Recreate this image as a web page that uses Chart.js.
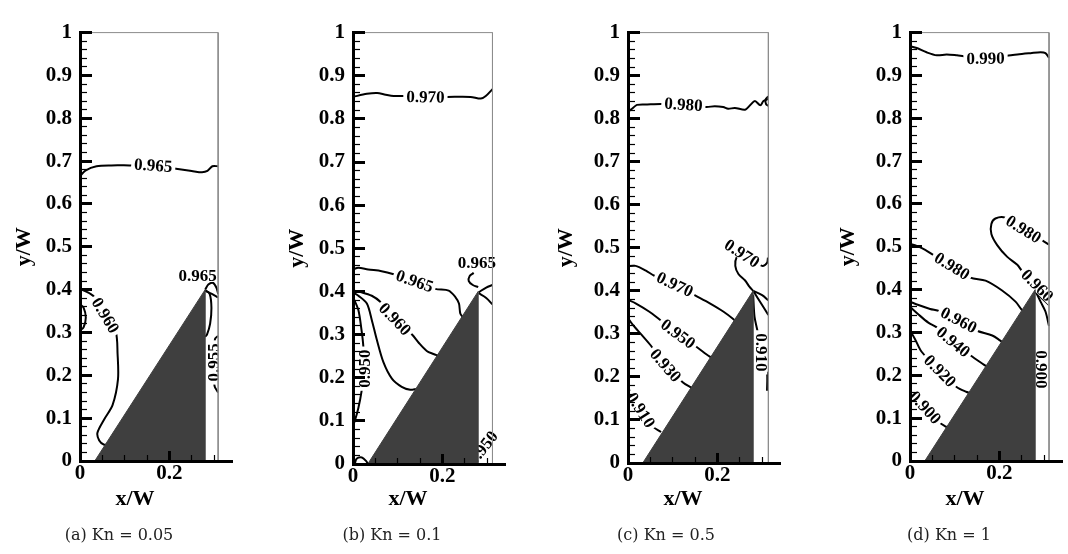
<!DOCTYPE html>
<html lang="en">
<head>
<meta charset="UTF-8">
<title>Kn contours</title>
<script src="https://cdn.jsdelivr.net/npm/chart.js"></script>
<style>
  body { margin: 0; width: 1068px; height: 554px; background: #fff; position: relative; overflow: hidden; }
  canvas { position: absolute; top: 0; }
  .xtitle { position: absolute; top: 498px; font: bold 22px "Liberation Serif", serif; color: #000; transform: translate(-50%, -50%); white-space: nowrap; }
  .cap { position: absolute; top: 534px; font: 16px "DejaVu Serif", serif; color: #222; transform: translate(-50%, -50%); white-space: nowrap; }
</style>
</head>
<body>
<script>
// sub-figure captions
const captions = ['(a) Kn = 0.05', '(b) Kn = 0.1', '(c) Kn = 0.5', '(d) Kn = 1'];

// solid wedge and right edge of the domain (x/W)
const wedge = [[0.033, 0], [0.28, 0], [0.28, 0.4], [0.033, 0]];
const domainRight = [0.309, 0.312, 0.314, 0.311];

// contour lines, one list of [x/W, y/W] points per line
const linesA = [
    [[0, 0.665], [0.012, 0.678], [0.037, 0.688], [0.07, 0.69], [0.111, 0.69], [0.164, 0.69], [0.211, 0.683], [0.25, 0.677], [0.273, 0.674], [0.285, 0.677], [0.296, 0.688], [0.309, 0.688]],
    [[0, 0.402], [0.01, 0.397], [0.022, 0.391], [0.033, 0.382], [0.057, 0.34], [0.08, 0.301], [0.084, 0.251], [0.085, 0.191], [0.073, 0.131], [0.054, 0.097], [0.039, 0.066], [0.043, 0.048], [0.054, 0.038], [0.07, 0.04]],
    [[0, 0.366], [0.008, 0.358], [0.013, 0.335], [0.008, 0.312], [0, 0.305]],
    [[0.28, 0.4], [0.287, 0.412], [0.297, 0.416], [0.305, 0.405], [0.309, 0.39]],
    [[0.28, 0.398], [0.295, 0.39], [0.309, 0.382]],
    [[0.28, 0.398], [0.29, 0.39], [0.294, 0.357], [0.291, 0.32], [0.284, 0.295], [0.28, 0.29]],
    [[0.309, 0.292], [0.302, 0.285], [0.299, 0.23], [0.301, 0.175], [0.309, 0.16]]
];
const linesB = [
    [[0, 0.851], [0.031, 0.858], [0.054, 0.86], [0.073, 0.856], [0.091, 0.853], [0.114, 0.853], [0.162, 0.851], [0.211, 0.851], [0.263, 0.851], [0.286, 0.847], [0.297, 0.853], [0.312, 0.869]],
    [[0, 0.451], [0.012, 0.455], [0.034, 0.451], [0.064, 0.447], [0.091, 0.44], [0.138, 0.424], [0.184, 0.406], [0.214, 0.402], [0.229, 0.387], [0.237, 0.372], [0.24, 0.349], [0.246, 0.34]],
    [[0, 0.402], [0.019, 0.398], [0.042, 0.39], [0.061, 0.376], [0.094, 0.336], [0.132, 0.3], [0.147, 0.281], [0.165, 0.262], [0.18, 0.255], [0.19, 0.251]],
    [[0, 0.398], [0.012, 0.39], [0.031, 0.372], [0.042, 0.334], [0.053, 0.289], [0.068, 0.236], [0.087, 0.198], [0.109, 0.179], [0.128, 0.172], [0.142, 0.174]],
    [[0, 0.387], [0.012, 0.357], [0.019, 0.311], [0.023, 0.274], [0.025, 0.221], [0.019, 0.168], [0.012, 0.13], [0.004, 0.1], [0, 0.09]],
    [[0.27, 0.443], [0.261, 0.436], [0.259, 0.424], [0.268, 0.415], [0.28, 0.41]],
    [[0.281, 0.398], [0.298, 0.409], [0.312, 0.415]],
    [[0.281, 0.396], [0.298, 0.385], [0.312, 0.37]],
    [[0.004, 0], [0.008, 0.012], [0.02, 0.015], [0.03, 0.006], [0.033, 0]]
];
const linesC = [
    [[0, 0.816], [0.009, 0.823], [0.02, 0.832], [0.043, 0.833], [0.073, 0.834], [0.124, 0.833], [0.175, 0.827], [0.194, 0.829], [0.213, 0.827], [0.224, 0.823], [0.239, 0.825], [0.262, 0.821], [0.273, 0.831], [0.284, 0.841], [0.296, 0.831], [0.303, 0.841], [0.314, 0.846]],
    [[0.314, 0.852], [0.308, 0.845], [0.309, 0.833], [0.314, 0.83]],
    [[0.28, 0.4], [0.272, 0.409], [0.262, 0.424], [0.247, 0.439], [0.24, 0.458], [0.243, 0.478], [0.255, 0.487], [0.3, 0.458], [0.311, 0.465], [0.313, 0.477]],
    [[0, 0.457], [0.017, 0.458], [0.04, 0.447], [0.059, 0.435], [0.105, 0.415], [0.149, 0.39], [0.183, 0.371], [0.213, 0.352], [0.236, 0.334], [0.25, 0.32]],
    [[0, 0.379], [0.017, 0.371], [0.047, 0.352], [0.07, 0.334], [0.112, 0.3], [0.153, 0.27], [0.183, 0.247], [0.195, 0.24]],
    [[0, 0.337], [0.01, 0.322], [0.032, 0.296], [0.051, 0.273], [0.084, 0.227], [0.123, 0.187], [0.142, 0.175], [0.15, 0.17]],
    [[0, 0.175], [0.008, 0.16], [0.029, 0.123], [0.055, 0.085], [0.074, 0.072]],
    [[0.28, 0.39], [0.283, 0.34], [0.29, 0.305], [0.298, 0.257], [0.305, 0.213], [0.311, 0.21], [0.311, 0.168]],
    [[0.28, 0.4], [0.3, 0.39], [0.314, 0.378]],
    [[0.28, 0.4], [0.3, 0.367], [0.314, 0.344]]
];
const linesD = [
    [[0, 0.968], [0.015, 0.964], [0.037, 0.954], [0.06, 0.947], [0.082, 0.949], [0.105, 0.947], [0.12, 0.945], [0.169, 0.94], [0.217, 0.946], [0.24, 0.949], [0.27, 0.952], [0.292, 0.954], [0.303, 0.952], [0.311, 0.941]],
    [[0.311, 0.505], [0.296, 0.515], [0.254, 0.541], [0.213, 0.568], [0.191, 0.566], [0.182, 0.553], [0.182, 0.53], [0.195, 0.504], [0.217, 0.477], [0.24, 0.458], [0.251, 0.443], [0.285, 0.41]],
    [[0.28, 0.398], [0.292, 0.372], [0.303, 0.349], [0.311, 0.315]],
    [[0.28, 0.395], [0.295, 0.38], [0.311, 0.364]],
    [[0, 0.507], [0.015, 0.502], [0.034, 0.493], [0.052, 0.481], [0.094, 0.455], [0.135, 0.428], [0.169, 0.421], [0.206, 0.398], [0.236, 0.372], [0.25, 0.353], [0.26, 0.345]],
    [[0, 0.372], [0.019, 0.364], [0.045, 0.355], [0.066, 0.35], [0.109, 0.329], [0.15, 0.304], [0.184, 0.293], [0.202, 0.281], [0.21, 0.275]],
    [[0, 0.36], [0.019, 0.342], [0.041, 0.323], [0.06, 0.312], [0.097, 0.278], [0.135, 0.247], [0.165, 0.225], [0.175, 0.218]],
    [[0, 0.304], [0.011, 0.285], [0.026, 0.255], [0.067, 0.21], [0.105, 0.172], [0.127, 0.161], [0.135, 0.158]],
    [[0, 0.168], [0.008, 0.155], [0.034, 0.125], [0.067, 0.089], [0.079, 0.081], [0.085, 0.078]]
];

// contour labels: s = line, i = point on it (text follows the line),
// or a free label at x/y; r = fixed rotation in degrees
const labelsA = [
    {s: 0, i: 5, t: '0.965'},
    {s: 1, i: 4, t: '0.960'},
    {x: 0.263, y: 0.432, t: '0.965', r: 0},
    {s: 6, i: 2, t: '0.955', r: -90}
];
const labelsB = [
    {s: 0, i: 6, t: '0.970'},
    {s: 1, i: 5, t: '0.965'},
    {s: 2, i: 4, t: '0.960'},
    {s: 4, i: 4, t: '0.950', r: -90},
    {x: 0.277, y: 0.467, t: '0.965', r: 0},
    {x: 0.29, y: 0.037, t: '0.950', r: -52}
];
const labelsC = [
    {s: 0, i: 5, t: '0.980'},
    {s: 2, i: 6, t: '0.970', r: 33},
    {s: 3, i: 4, t: '0.970'},
    {s: 4, i: 4, t: '0.950'},
    {s: 5, i: 4, t: '0.930'},
    {s: 6, i: 2, t: '0.910'},
    {s: 7, i: 3, t: '0.910', r: 90}
];
const labelsD = [
    {s: 0, i: 7, t: '0.990'},
    {s: 1, i: 2, t: '0.980'},
    {s: 1, i: 11, t: '0.960', r: 45},
    {x: 0.293, y: 0.214, t: '0.900', r: 90},
    {s: 4, i: 4, t: '0.980'},
    {s: 5, i: 4, t: '0.960'},
    {s: 6, i: 4, t: '0.940'},
    {s: 7, i: 3, t: '0.920'},
    {s: 8, i: 2, t: '0.900'}
];

const allLines = [linesA, linesB, linesC, linesD];
const allLabels = [labelsA, labelsB, labelsC, labelsD];

// page layout of the four panels
const plotLeft = [80, 353, 628, 910];
const plotTop = [19, 22, 20, 19];
const plotBottom = [461, 464, 463, 461];
const yTitlePad = [6, 6, 0, 0];
const captionX = [119, 392, 666, 949];
const serif = '"Liberation Serif", serif';

function pts(arr) {
    return arr.map(p => ({x: p[0], y: p[1]}));
}

function fmt(v) {
    return String(Math.round(v * 100) / 100);
}

// draws the inline contour labels just before the frame and wedge
function makeLabelPlugin(lines, labels) {
    return {
        id: 'isoLabels',
        beforeDatasetDraw(chart, args) {
            if (args.index !== 1) return;
            const {ctx, chartArea: ca, scales: {x, y}} = chart;
            ctx.save();
            ctx.beginPath();
            ctx.rect(ca.left, ca.top, ca.right - ca.left, ca.bottom - ca.top);
            ctx.clip();
            ctx.font = 'bold 17px ' + serif;
            ctx.textAlign = 'center';
            ctx.textBaseline = 'middle';
            labels.forEach(lb => {
                let px, py, ang = lb.r;
                if (lb.s !== undefined) {
                    const line = lines[lb.s];
                    const p = line[lb.i];
                    px = x.getPixelForValue(p[0]);
                    py = y.getPixelForValue(p[1]);
                    if (ang === undefined) {
                        const a = line[lb.i - 1], b = line[lb.i + 1];
                        ang = Math.atan2(y.getPixelForValue(b[1]) - y.getPixelForValue(a[1]),
                                         x.getPixelForValue(b[0]) - x.getPixelForValue(a[0])) * 180 / Math.PI;
                        if (ang > 90) ang -= 180;
                        if (ang <= -90) ang += 180;
                    }
                } else {
                    px = x.getPixelForValue(lb.x);
                    py = y.getPixelForValue(lb.y);
                }
                const w = ctx.measureText(lb.t).width;
                ctx.save();
                ctx.translate(px, py);
                ctx.rotate(ang * Math.PI / 180);
                ctx.fillStyle = '#fff';
                ctx.fillRect(-w / 2 - 3, -6, w + 6, 12);
                ctx.fillStyle = '#000';
                ctx.fillText(lb.t, 0, 1);
                ctx.restore();
            });
            ctx.restore();
        }
    };
}

for (let k = 0; k < 4; k++) {
    const cv = document.createElement('canvas');
    cv.width = 232;
    cv.height = 554;
    cv.style.left = (plotLeft[k] - 75) + 'px';
    document.body.appendChild(cv);

    const datasets = [
        {data: pts(wedge), showLine: true, fill: 'shape', backgroundColor: '#3f3f3f',
         borderColor: '#3f3f3f', borderWidth: 1, pointRadius: 0, tension: 0},
        {data: pts([[0, 1], [domainRight[k], 1], [domainRight[k], 0]]), showLine: true, fill: false,
         borderColor: '#8c8c8c', borderWidth: 1, pointRadius: 0, tension: 0, clip: false}
    ];
    allLines[k].forEach(l => {
        datasets.push({data: pts(l), showLine: true, fill: false, borderColor: '#000',
                       borderWidth: 2, pointRadius: 0, tension: 0.3});
    });

    const tickFont = {family: serif, size: 21, weight: 'bold'};
    new Chart(cv.getContext('2d'), {
        type: 'scatter',
        data: {datasets: datasets},
        options: {
            responsive: false,
            animation: false,
            devicePixelRatio: 1,
            events: [],
            layout: {padding: {left: 0, right: 5, top: plotTop[k], bottom: 0}},
            plugins: {legend: {display: false}, tooltip: {enabled: false}},
            scales: {
                x: {
                    type: 'linear', position: 'bottom', min: 0, max: 0.34, weight: 1,
                    afterFit: s => { s.height = 554 - plotBottom[k]; },
                    ticks: {stepSize: 0.2, includeBounds: false, autoSkip: false, maxRotation: 0,
                            padding: 10, color: '#000', font: tickFont, callback: fmt},
                    grid: {drawOnChartArea: false, tickLength: -10, tickWidth: 3, tickColor: '#000', z: 1},
                    border: {display: true, width: 3, color: '#000', z: 1}
                },
                xMinor: {
                    type: 'linear', position: 'bottom', min: 0, max: 0.34, weight: 0,
                    afterFit: s => { s.height = 0; },
                    ticks: {display: false, stepSize: 0.05, includeBounds: false, autoSkip: false},
                    grid: {drawOnChartArea: false, tickLength: -6, tickWidth: 1.2, tickColor: '#000', z: 1},
                    border: {display: false}
                },
                y: {
                    type: 'linear', position: 'left', min: 0, max: 1, weight: 1,
                    afterFit: s => { s.width = 75; },
                    ticks: {stepSize: 0.1, autoSkip: false, padding: 20, color: '#000', font: tickFont, callback: fmt},
                    grid: {drawOnChartArea: false, tickLength: -12, tickWidth: 3, tickColor: '#000', z: 1},
                    border: {display: true, width: 3, color: '#000', z: 1},
                    title: {display: true, text: 'y/W', color: '#000',
                            font: {family: serif, size: 22, weight: 'bold'}, padding: {top: yTitlePad[k], bottom: 0}}
                },
                yMinor: {
                    type: 'linear', position: 'left', min: 0, max: 1, weight: 0,
                    afterFit: s => { s.width = 0; },
                    ticks: {display: false, stepSize: 0.02, autoSkip: false},
                    grid: {drawOnChartArea: false, tickLength: -7, tickWidth: 1.2, tickColor: '#000', z: 1},
                    border: {display: false}
                }
            }
        },
        plugins: [makeLabelPlugin(allLines[k], allLabels[k])]
    });

    const xt = document.createElement('div');
    xt.className = 'xtitle';
    xt.textContent = 'x/W';
    xt.style.left = (plotLeft[k] + 55) + 'px';
    document.body.appendChild(xt);

    const cap = document.createElement('div');
    cap.className = 'cap';
    cap.textContent = captions[k];
    cap.style.left = captionX[k] + 'px';
    document.body.appendChild(cap);
}
</script>
</body>
</html>
